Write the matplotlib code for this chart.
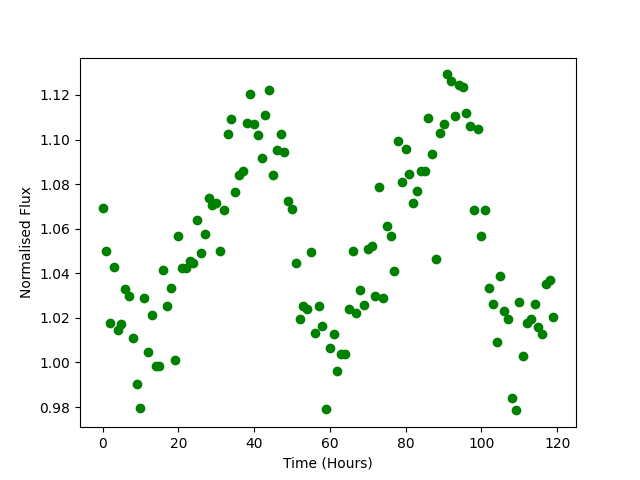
import numpy as np
import matplotlib
matplotlib.use("Agg")
import matplotlib.pyplot as plt

# hourly readings, t = 0..119
time_hours = np.arange(120)

flux = [
    1.0695, 1.0499, 1.0179, 1.0430, 1.0146, 1.0172, 1.0329, 1.0296, 1.0108, 0.9903,
    0.9797, 1.0291, 1.0049, 1.0215, 0.9982, 0.9982, 1.0414, 1.0255, 1.0336, 1.0009,
    1.0565, 1.0424, 1.0424, 1.0455, 1.0448, 1.0641, 1.0489, 1.0575, 1.0736, 1.0705,
    1.0717, 1.0502, 1.0686, 1.1023, 1.1094, 1.0763, 1.0843, 1.0857, 1.1076, 1.1206,
    1.1071, 1.1022, 1.0919, 1.1108, 1.1224, 1.0843, 1.0952, 1.1023, 1.0946, 1.0723,
    1.0690, 1.0444, 1.0197, 1.0252, 1.0238, 1.0494, 1.0130, 1.0252, 1.0163, 0.9791,
    1.0067, 1.0127, 0.9961, 1.0040, 1.0040, 1.0238, 1.0502, 1.0224, 1.0324, 1.0257,
    1.0511, 1.0523, 1.0296, 1.0789, 1.0287, 1.0610, 1.0565, 1.0412, 1.0995, 1.0811,
    1.0959, 1.0847, 1.0717, 1.0771, 1.0857, 1.0857, 1.1098, 1.0937, 1.0466, 1.1031,
    1.1071, 1.1292, 1.1264, 1.1107, 1.1246, 1.1237, 1.1121, 1.1062, 1.0686, 1.1049,
    1.0565, 1.0686, 1.0336, 1.0264, 1.0094, 1.0390, 1.0233, 1.0193, 0.9839, 0.9785,
    1.0269, 1.0031, 1.0175, 1.0193, 1.0260, 1.0161, 1.0126, 1.0354, 1.0372, 1.0202,
]

fig, ax = plt.subplots(figsize=(6.4, 4.8), dpi=100)
ax.plot(time_hours, flux, 'go')
ax.set_xlabel('Time (Hours)')
ax.set_ylabel('Normalised Flux')

fig.savefig('out.png')
